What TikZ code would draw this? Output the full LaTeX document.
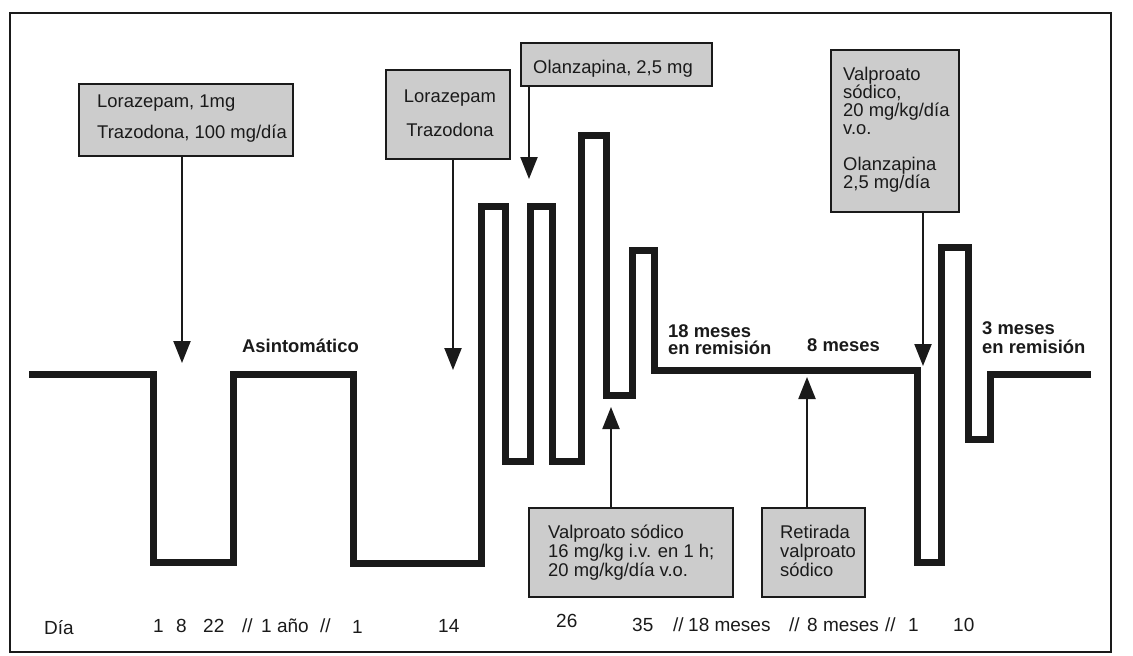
\documentclass[tikz,border=0pt]{standalone}
\usepackage{fontspec}
\setmainfont{Liberation Sans}
\usetikzlibrary{arrows.meta}
\definecolor{boxgray}{RGB}{204,204,204}
\definecolor{ink}{RGB}{26,26,26}
\begin{document}
\begin{tikzpicture}[x=1pt,y=-1pt,
  box/.style={draw=ink,line width=1.4pt,fill=boxgray,inner sep=0pt,rectangle},
  txt/.style={inner sep=0pt,font=\fontsize{18.4}{18.4}\selectfont,text=ink},
  axtxt/.style={inner sep=0pt,font=\fontsize{19}{19}\selectfont,text=ink},
  btxt/.style={inner sep=0pt,font=\fontsize{18.4}{18.4}\selectfont\bfseries,text=ink},
  wave/.style={draw=ink,line width=7pt,line join=miter},
  pointer/.style={draw=ink,line width=2.2pt,-{Triangle[width=17pt,length=22pt]}}]
\useasboundingbox (0,0) rectangle (1133,656);
\draw[ink,line width=1.3pt] (10,13) rectangle (1111,652);
% waveform
\draw[wave] (29,374) -- (153,374) -- (153,562) -- (233,562) -- (233,374) -- (353,374)
  -- (353,563) -- (481,563) -- (481,206) -- (505,206) -- (505,461) -- (530,461)
  -- (530,206) -- (552,206) -- (552,461) -- (581,461) -- (581,135) -- (606,135)
  -- (606,395) -- (632,395) -- (632,250) -- (654,250) -- (654,370) -- (917,370)
  -- (917,562) -- (941,562) -- (941,247) -- (968,247) -- (968,439) -- (990,439)
  -- (990,374) -- (1091,374);
% boxes
\node[box,minimum width=214pt,minimum height=72pt] (b1) at (186,120) {};
\node[box,minimum width=124pt,minimum height=89pt] (b2) at (448,114.5) {};
\node[box,minimum width=191pt,minimum height=43pt] (b3) at (616.5,64.5) {};
\node[box,minimum width=128pt,minimum height=162pt] (b4) at (895,131) {};
\node[box,minimum width=204pt,minimum height=89pt] (b5) at (631,552.5) {};
\node[box,minimum width=103pt,minimum height=89pt] (b6) at (813.5,552.5) {};
% box texts
\node[txt,anchor=base west] (t1a) at (97,107) {Lorazepam, 1mg};
\node[txt,anchor=base west] (t1b) at (97,138) {Trazodona, 100 mg/día};
\node[txt,anchor=base] (t2a) at (450,102) {Lorazepam};
\node[txt,anchor=base] (t2b) at (450,136) {Trazodona};
\node[txt,anchor=base west] (t3) at (533,73) {Olanzapina, 2,5 mg};
\node[txt,anchor=base west] (t4a) at (843,80) {Valproato};
\node[txt,anchor=base west] (t4b) at (843,98) {sódico,};
\node[txt,anchor=base west] (t4c) at (843,116) {20 mg/kg/día};
\node[txt,anchor=base west] (t4d) at (843,134) {v.o.};
\node[txt,anchor=base west] (t4e) at (843,170) {Olanzapina};
\node[txt,anchor=base west] (t4f) at (843,188) {2,5 mg/día};
\node[txt,anchor=base west] (t5a) at (548,538) {Valproato sódico};
\node[txt,anchor=base west] (t5b) at (548,557) {16 mg/kg i.v. en 1 h;};
\node[txt,anchor=base west] (t5c) at (548,576) {20 mg/kg/día v.o.};
\node[txt,anchor=base west] (t6a) at (780,538) {Retirada};
\node[txt,anchor=base west] (t6b) at (780,557) {valproato};
\node[txt,anchor=base west] (t6c) at (780,576) {sódico};
% arrow tips
\coordinate (p1) at (182,363);
\coordinate (p2) at (453,370);
\coordinate (p3) at (529,179);
\coordinate (p4) at (923,366);
\coordinate (p5) at (611,407);
\coordinate (p6) at (807,377);
\draw[pointer] (b1.south -| p1) -- (p1);
\draw[pointer] (b2.south -| p2) -- (p2);
\draw[pointer] (b3.south -| p3) -- (p3);
\draw[pointer] (b4.south -| p4) -- (p4);
\draw[pointer] (b5.north -| p5) -- (p5);
\draw[pointer] (b6.north -| p6) -- (p6);
% bold labels
\node[btxt,anchor=base west] (l1) at (242,352) {Asintomático};
\node[btxt,anchor=base west] (l2a) at (668,337) {18 meses};
\node[btxt,anchor=base west] (l2b) at (668,354) {en remisión};
\node[btxt,anchor=base west] (l3) at (807,351) {8 meses};
\node[btxt,anchor=base west] (l4a) at (982,334) {3 meses};
\node[btxt,anchor=base west] (l4b) at (982,353) {en remisión};
% time axis
\node[axtxt,anchor=base west] (d0) at (44,634) {Día};
\node[axtxt,anchor=base west] (d1) at (153,632) {1};
\node[axtxt,anchor=base west] (d2) at (176,632) {8};
\node[axtxt,anchor=base west] (d3) at (203,632) {22};
\node[axtxt,anchor=base west] (d4) at (242,632) {//};
\node[axtxt,anchor=base west] (d5) at (261,632) {1 año};
\node[axtxt,anchor=base west] (d6) at (320,632) {//};
\node[axtxt,anchor=base west] (d7) at (352,633) {1};
\node[axtxt,anchor=base west] (d8) at (438,632) {14};
\node[axtxt,anchor=base west] (d9) at (556,627) {26};
\node[axtxt,anchor=base west] (d10) at (632,631) {35};
\node[axtxt,anchor=base west] (d11) at (673,631) {//};
\node[axtxt,anchor=base west] (d12) at (688,631) {18 meses};
\node[axtxt,anchor=base west] (d13) at (789,631) {//};
\node[axtxt,anchor=base west] (d14) at (807,631) {8 meses};
\node[axtxt,anchor=base west] (d15) at (885,631) {//};
\node[axtxt,anchor=base west] (d16) at (908,631) {1};
\node[axtxt,anchor=base west] (d17) at (953,631) {10};
\end{tikzpicture}
\end{document}
